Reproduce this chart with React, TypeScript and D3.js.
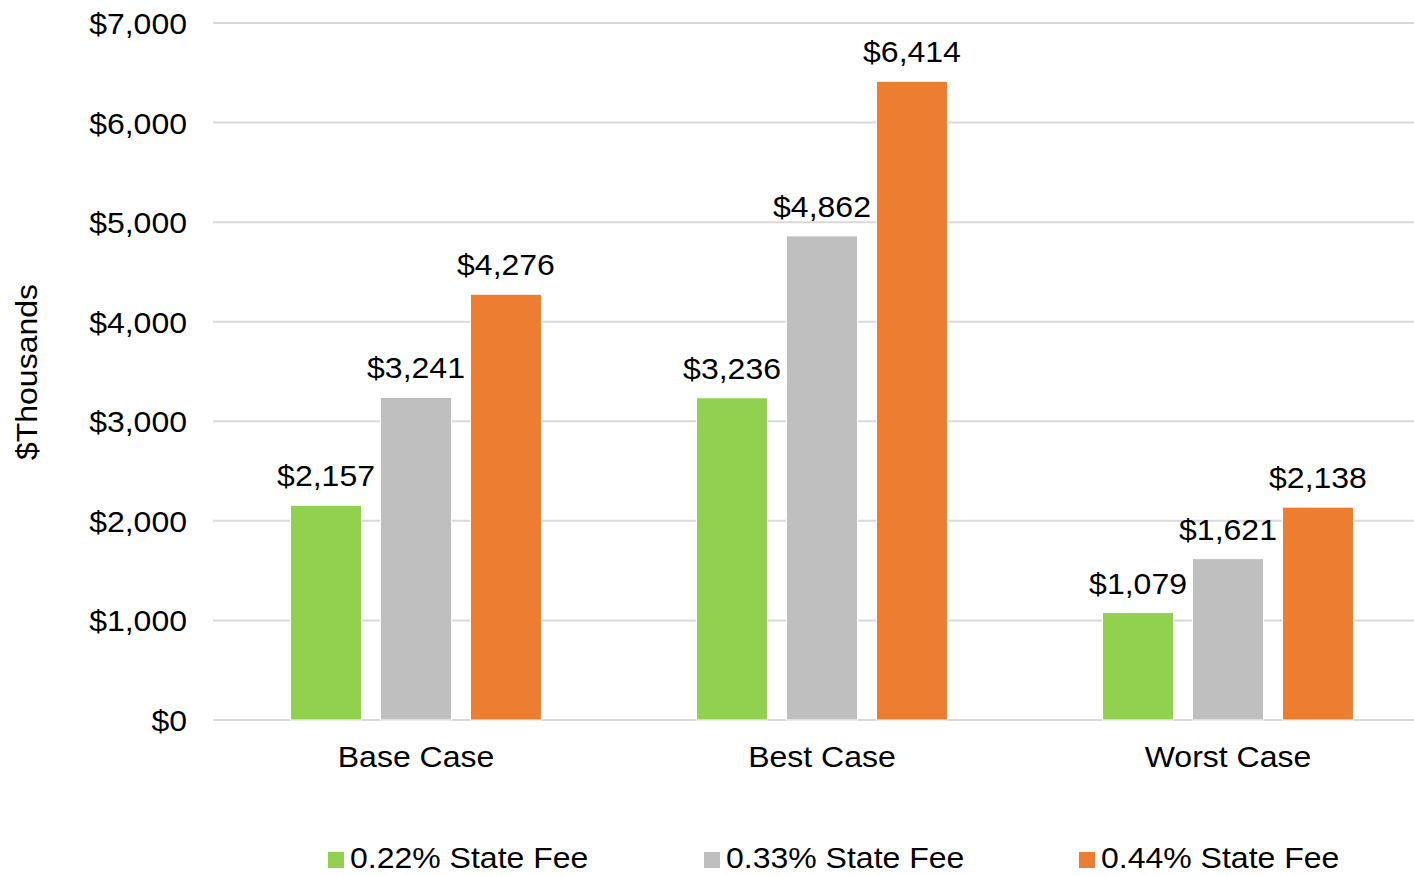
import React from "react";
import * as d3 from "d3";

const categories = ["Base Case", "Best Case", "Worst Case"];
const seriesNames = ["0.22% State Fee", "0.33% State Fee", "0.44% State Fee"];
const fee022 = [2157, 3236, 1079];
const fee033 = [3241, 4862, 1621];
const fee044 = [4276, 6414, 2138];
const seriesValues = [fee022, fee033, fee044];
const colors = ["#92d050", "#bfbfbf", "#ed7d31"];
const yTicks = [0, 1000, 2000, 3000, 4000, 5000, 6000, 7000];
const yTitle = "$Thousands";

const W = 1414;
const H = 876;
const FONT = "'Liberation Sans', Arial, sans-serif";
const FS = 29.5;
const SX = 1.085;

function T({ x, y, anchor = "start", children, rotate = 0 }: any) {
  const tr = rotate
    ? `translate(${x},${y}) rotate(${rotate}) scale(${SX},1)`
    : `translate(${x},${y}) scale(${SX},1)`;
  return (
    <text transform={tr} textAnchor={anchor} fontFamily={FONT} fontSize={FS} fill="#000">
      {children}
    </text>
  );
}

const fmt = (v: number) => "$" + d3.format(",")(v);

export default function App() {
  const x0 = d3.scaleBand<string>().domain(categories).range([213, 1431]).paddingInner(0.382).paddingOuter(0.191);
  const x1 = d3.scaleBand<string>().domain(seriesNames).range([0, x0.bandwidth()]).paddingInner(0.211).paddingOuter(0);
  const y = d3.scaleLinear().domain([0, 7000]).range([720, 23]);

  const legendX = [328, 704, 1079];

  return (
    <svg width={W} height={H} style={{ position: "absolute", left: 0, top: 0, background: "#fff" }}>
      <rect width={W} height={H} fill="#fff" />
      {yTicks.map((t) => (
        <g key={t}>
          <line x1={213} x2={1414} y1={y(t)} y2={y(t)} stroke="#d9d9d9" strokeWidth={2} />
          <T x={187} y={y(t) + 11} anchor="end">{fmt(t)}</T>
        </g>
      ))}
      {categories.map((c, ci) => (
        <g key={c}>
          {seriesNames.map((s, si) => {
            const v = seriesValues[si][ci];
            const bx = (x0(c) as number) + (x1(s) as number);
            const bw = x1.bandwidth();
            return (
              <g key={s}>
                <rect x={bx} y={y(v)} width={bw} height={y(0) - y(v)} fill={colors[si]} stroke="#fff" strokeWidth={1} />
                <T x={bx + bw / 2} y={y(v) - 19} anchor="middle">{fmt(v)}</T>
              </g>
            );
          })}
          <T x={(x0(c) as number) + x0.bandwidth() / 2} y={767} anchor="middle">{c}</T>
        </g>
      ))}
      <T x={37} y={372} anchor="middle" rotate={-90}>{yTitle}</T>
      {seriesNames.map((s, si) => (
        <g key={s}>
          <rect x={legendX[si]} y={852} width={16} height={16} fill={colors[si]} />
          <T x={legendX[si] + 22} y={868}>{s}</T>
        </g>
      ))}
    </svg>
  );
}
